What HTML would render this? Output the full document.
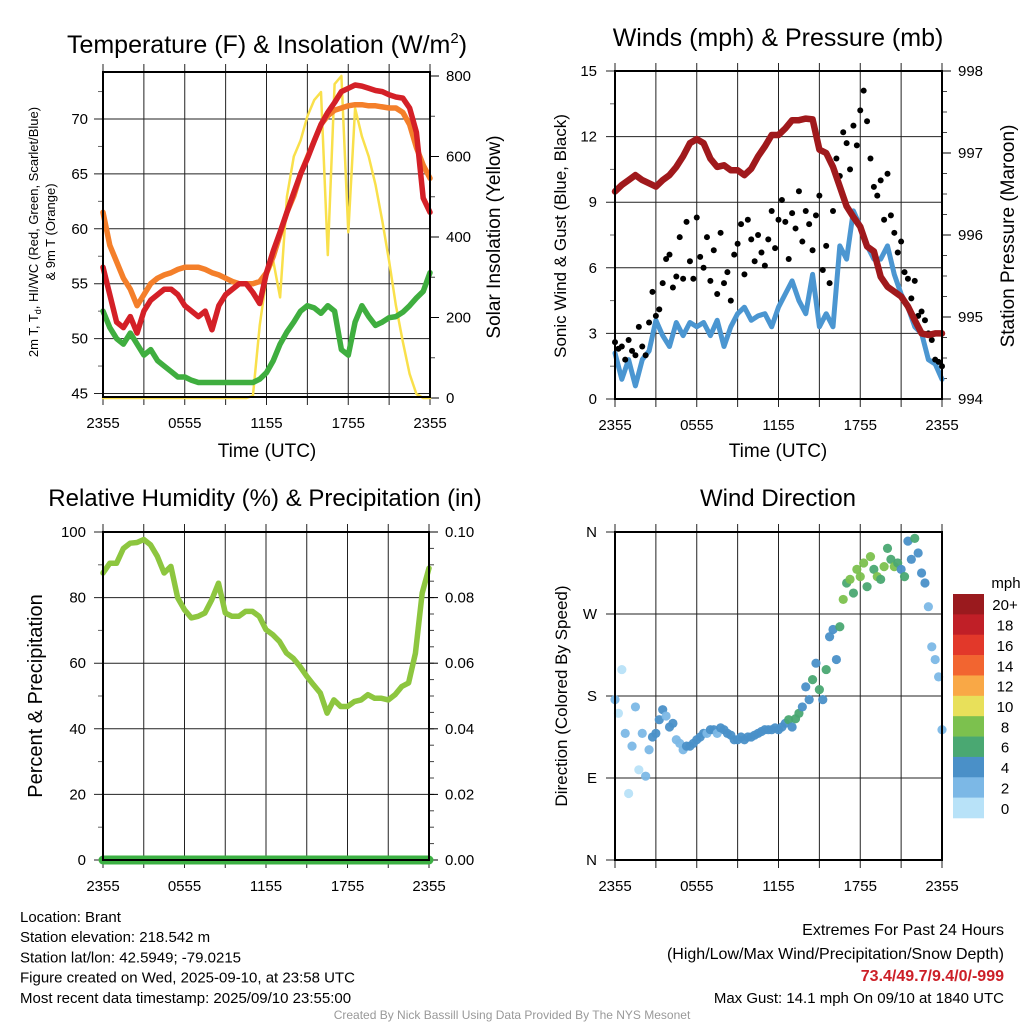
<!DOCTYPE html>
<html><head><meta charset="utf-8"><style>
html,body{margin:0;padding:0;background:#fff;}
svg{display:block;font-family:"Liberation Sans",Arial,sans-serif;}
</style></head><body>
<svg id="chart" width="1024" height="1024" viewBox="0 0 1024 1024" xmlns="http://www.w3.org/2000/svg"></svg>
<script>
// ---------- DATA (30-minute steps, 0h = 2355 UTC) ----------
const timeLabels = ["2355","0555","1155","1755","2355"];
const tempTicks = [45,50,55,60,65,70];
const solarTicks = [0,200,400,600,800];
const windTicks = [0,3,6,9,12,15];
const presTicks = [994,995,996,997,998];
const rhTicks = [0,20,40,60,80,100];
const precipTicks = ["0.00","0.02","0.04","0.06","0.08","0.10"];
const dirTicks = ["N","E","S","W","N"];
const speedBins = ["0","2","4","6","8","10","12","14","16","18","20+"];

const temp2m = [56.5,54,51.5,51,52,50.5,52.5,53.5,54,54.5,54.5,54,53,52.5,52,52.5,50.8,53,54,54.5,55,55,54.2,53.2,56,58,59.7,61.5,63.3,65,66.4,68,69.5,70.6,71.5,72.5,72.8,73.1,73,72.8,72.6,72.5,72.2,72,71.9,71,68.8,62.8,61.5,57.3].slice(0,49);
const temp9m = [61.5,58.5,57,55.5,54.5,53,54,55,55.5,55.8,56,56.3,56.5,56.5,56.5,56.3,56,55.8,55.5,55.2,55,55,55,55.2,56,57.5,59.5,61.5,63,65,66.5,68,69.5,70.3,70.8,71,71.2,71.3,71.3,71.2,71.2,71.1,71,71,70.6,69.5,67.4,65.8,64.6,62.2].slice(0,49);
const dewpt = [52.5,51,50,49.5,50.5,49.5,48.5,49,48,47.5,47,46.5,46.5,46.2,46,46,46,46,46,46,46,46,46,46.3,46.9,48,49.5,50.6,51.5,52.5,53,52.8,52.3,53,52.5,49,48.5,51.5,53,52,51.2,51.5,51.9,52,52.4,53,53.7,54.3,56,54].slice(0,49);
const solar = [0,0,0,0,0,0,0,0,0,0,0,0,0,0,0,0,0,0,0,0,0,0,5,180,300,340,250,500,600,640,700,740,760,355,780,800,412,720,650,600,530,440,340,230,140,60,10,0,0];

const pressure = [996.53,996.61,996.67,996.73,996.67,996.63,996.59,996.67,996.73,996.83,996.96,997.12,997.17,997.12,996.93,996.83,996.85,996.79,996.79,996.73,996.81,996.96,997.08,997.22,997.22,997.30,997.40,997.40,997.42,997.41,997.04,997.00,996.83,996.59,996.35,996.22,996.10,995.86,995.80,995.49,995.37,995.31,995.25,995.13,994.96,994.80,994.78,994.80,994.80];
const sonicWind = [2.1,0.9,1.8,0.6,1.8,2.2,3.6,2.9,2.4,3.5,2.9,3.5,3.3,3.5,2.9,3.6,2.4,3.3,3.9,4.2,3.6,3.8,3.9,3.3,4.2,4.8,5.4,4.5,3.9,5.7,3.3,3.9,3.3,7.0,6.4,8.6,7.9,7.0,6.4,6.4,7.0,5.7,4.8,4.2,3.3,3.0,1.8,1.6,0.9];
// gusts, 15-minute steps
const gusts = [2.6,2.3,2.4,1.8,2.7,2.2,2.0,3.3,2.4,
 2.0,3.5,4.9,3.8,4.1,5.3,6.4,6.6,
 5.1,5.6,7.4,5.5,8.1,6.3,5.5,8.3,
 6.5,6.0,7.4,5.4,6.8,4.8,7.6,5.3,
 5.8,4.5,6.6,7.1,8.0,5.7,8.2,7.3,
 6.3,7.5,6.7,6.1,7.3,8.6,6.9,8.2,
 9.1,8.1,6.4,8.5,7.8,9.5,7.2,8.6,
 8.0,6.8,8.4,9.3,5.9,7.0,5.3,8.6,
 11.0,10.2,12.2,11.7,10.5,12.5,11.6,13.2,
 14.1,12.7,11.0,9.7,9.3,10.0,8.2,10.3,
 8.4,7.6,6.7,7.2,5.8,5.5,4.6,5.4,
 3.8,4.0,3.6,3.0,2.7,1.8,1.7,1.5];

const humidity = [87.5,90.5,90.5,95,96.6,96.8,97.7,96.1,92.6,87.5,89.5,79.9,76.3,73.8,74.3,75.3,79.3,84.4,75.3,74.3,74.3,75.8,75.8,74.3,70.2,68.7,66.6,63.1,61.5,59,56,53.4,50.9,44.8,48.8,46.8,46.8,48.3,48.8,50.4,49.3,49.3,48.8,50.4,52.9,54,63,81.4,89];
const precip = [0,0,0,0,0,0,0,0,0,0,0,0,0,0,0,0,0,0,0,0,0,0,0,0,0,0,0,0,0,0,0,0,0,0,0,0,0,0,0,0,0,0,0,0,0,0,0,0,0];

// wind direction (deg) & speed (mph), 15-minute steps
const windDir = [176,161,209,139,73,125,168,99,139,
 92,121,135,139,154,165,158,146,
 150,132,128,121,125,125,128,132,
 135,139,139,143,143,139,145,143,
 139,137,132,132,135,132,135,135,
 137,139,141,143,143,143,145,143,
 146,150,154,146,155,161,168,190,
 176,198,216,187,176,209,245,253,
 220,256,286,304,308,293,319,311,
 326,300,333,319,311,308,322,342,
 330,322,326,319,311,350,330,353,
 337,315,304,278,234,220,201,143];
const windSpd = [1.0,0.5,0.8,1.6,0.4,1.2,2.4,0.9,2.2,
 1.5,2.6,3.4,3.9,3.6,3.0,2.6,3.1,
 3.2,2.8,2.4,2.6,3.1,3.6,3.3,3.0,
 3.8,3.2,2.6,3.5,3.0,2.8,3.2,3.4,
 3.6,3.9,4.2,3.7,4.4,3.9,3.6,3.8,
 3.5,4.1,3.8,4.2,3.6,4.4,4.6,4.3,
 4.4,4.8,5.2,4.2,6.4,5.3,4.6,4.9,
 4.4,6.1,3.8,5.4,4.6,5.2,4.0,4.7,
 4.8,6.8,7.2,6.6,8.6,6.9,7.4,7.0,
 8.8,6.6,7.1,6.3,8.4,6.5,7.1,6.8,
 6.6,7.3,5.9,4.4,6.2,4.6,4.2,5.0,
 4.8,3.6,3.2,2.6,1.8,2.4,1.4,1.0];

// ---------- RENDERING ----------
const NS="http://www.w3.org/2000/svg";
const svg=document.getElementById('chart');
const binColors=["#b8e2f8","#7cb8e6","#4a90c8","#4aa872","#7cc14e","#e8e05a","#f9a846","#f26530","#e2382a","#c01f27","#9a1a1e"];
function mk(tag,attrs,parent){const e=document.createElementNS(NS,tag);for(const k in attrs)e.setAttribute(k,attrs[k]);(parent||svg).appendChild(e);return e;}
function lin(d0,d1,r0,r1){return v=>r0+(v-d0)*(r1-r0)/(d1-d0);}
function txt(s,x,y,size,anchor,parent,extra){const t=mk('text',Object.assign({x:x,y:y,'font-size':size,'text-anchor':anchor||'start',fill:'#000'},extra||{}),parent);t.textContent=s;return t;}

function panel(name,x0,x1,yt,yb){
  const g=mk('g',{});
  
  
  const xs=lin(0,24,x0,x1);
  for(let h=0;h<=24;h+=3){
    const l=mk('line',{x1:xs(h),x2:xs(h),y1:yt-8,y2:yb+8,stroke:'#222','stroke-width':1},g);
    
    
  }
  timeLabels.forEach((s,i)=>{const t=txt(s,xs(i*6),yb+31,15,'middle',g);
    
    });
  return {g,xs};
}
function hGrid(g,x0,x1,ys,vals,labelX,anchor,labels){
  vals.forEach((v,i)=>{
    const l=mk('line',{x1:x0-9,x2:x1,y1:ys(v),y2:ys(v),stroke:'#222','stroke-width':1},g);
    
    
    const t=txt(labels?labels[i]:String(v),labelX,ys(v)+5,15,anchor,g);
    
    
  });
}
function rTicks(g,x1,ys,vals,labels,minorStep,lo,hi){
  for(let v=lo;v<=hi+1e-9;v+=minorStep){mk('line',{x1:x1,x2:x1+5,y1:ys(v),y2:ys(v),stroke:'#444','stroke-width':1},g);}
  vals.forEach((v,i)=>{
    mk('line',{x1:x1,x2:x1+9,y1:ys(v),y2:ys(v),stroke:'#000','stroke-width':1},g);
    const t=txt(labels?labels[i]:String(v),x1+16,ys(v)+5,15,'start',g);
    
    
  });
}
function frame(g,x0,x1,yt,yb){mk('rect',{x:x0,y:yt,width:x1-x0,height:yb-yt,fill:'none',stroke:'#000','stroke-width':2},g);}
function path(g,arr,xs,ys,step,color,w,name){
  const d=arr.map((v,i)=>(i?'L':'M')+xs(i*step).toFixed(1)+','+ys(v).toFixed(1)).join('');
  const p=mk('path',{d:d,fill:'none',stroke:color,'stroke-width':w,'stroke-linejoin':'round','stroke-linecap':'round'},g);
  
  
  return p;
}
function rotLabel(s,x,y,size,g,name){const t=txt(s,x,y,size,'middle',g,{transform:`rotate(-90 ${x} ${y})`});
  
  return t;}

// ---- Panel 1: Temperature ----
{const x0=103,x1=430,yt=72,yb=397;
 const {g,xs}=panel('temperature-panel',x0,x1,yt,yb);
 const yT=lin(45,70,393.5,119), yS=lin(0,800,398,76);
 for(let v=47.5;v<=72.5;v+=5){mk('line',{x1:x0-5,x2:x0,y1:yT(v),y2:yT(v),stroke:'#666'},g);}
 hGrid(g,x0,x1,yT,tempTicks,88,'end');
 rTicks(g,x1,yS,solarTicks,null,100,0,800);
 path(g,solar,xs,yS,0.5,'#f9e04b',2.5,'solar-insolation-line');
 path(g,dewpt,xs,yT,0.5,'#3fae3f',5.5,'dewpoint-line');
 path(g,temp9m,xs,yT,0.5,'#f47f2a',5.5,'temp-9m-line');
 path(g,temp2m,xs,yT,0.5,'#d42027',5.5,'temp-2m-line');
 frame(g,x0,x1,yt,yb);
 const t=txt('',267,53,25,'middle',g);t.innerHTML='Temperature (F) &amp; Insolation (W/m<tspan dy="-10" font-size="15">2</tspan><tspan dy="10">)</tspan>';
 
 const xl=txt('Time (UTC)',267,457,19,'middle',g);
 const yl=txt('',38,232,13,'middle',g,{transform:'rotate(-90 38 232)'});yl.innerHTML='2m T, T<tspan dy="3" font-size="9">d</tspan><tspan dy="-3">, HI/WC (Red, Green, Scarlet/Blue)</tspan>';
 
 rotLabel('& 9m T (Orange)',55,232,13,g,'y-axis-title-line2');
 rotLabel('Solar Insolation (Yellow)',500,237,19,g,'right-axis-title');
}
// ---- Panel 2: Winds ----
{const x0=615,x1=942,yt=71,yb=399;
 const {g,xs}=panel('winds-panel',x0,x1,yt,yb);
 const yW=lin(0,15,399,71), yP=lin(994,998,399,71);
 for(let v=1.5;v<=13.5;v+=3){mk('line',{x1:x0-5,x2:x0,y1:yW(v),y2:yW(v),stroke:'#666'},g);}
 hGrid(g,x0,x1,yW,windTicks,597,'end');
 rTicks(g,x1,yP,presTicks,null,0.25,994,998);
 path(g,sonicWind,xs,yW,0.5,'#4b96d1',5,'sonic-wind-line');
 gusts.forEach((v,i)=>{const c=mk('circle',{cx:xs(i*0.25),cy:yW(v),r:3,fill:'#000'},g);
   });
 path(g,pressure,xs,yP,0.5,'#a0191c',6.5,'pressure-line');
 frame(g,x0,x1,yt,yb);
 const t=txt('Winds (mph) & Pressure (mb)',778,46,25,'middle',g);
 const xl=txt('Time (UTC)',778,457,19,'middle',g);
 rotLabel('Sonic Wind & Gust (Blue, Black)',566,236,17,g,'y-axis-title');
 rotLabel('Station Pressure (Maroon)',1014,236,19,g,'right-axis-title');
}
// ---- Panel 3: RH ----
{const x0=103,x1=429,yt=532,yb=860;
 const {g,xs}=panel('humidity-panel',x0,x1,yt,yb);
 const yR=lin(0,100,860,532), yPr=lin(0,0.1,860,532);
 for(let v=10;v<=90;v+=20){mk('line',{x1:x0-5,x2:x0,y1:yR(v),y2:yR(v),stroke:'#666'},g);}
 hGrid(g,x0,x1,yR,rhTicks,86,'end');
 rTicks(g,x1,yPr,[0,0.02,0.04,0.06,0.08,0.1],precipTicks,0.005,0,0.1);
 path(g,humidity,xs,yR,0.5,'#8dc63f',5.5,'humidity-line');
 path(g,precip,xs,yPr,0.5,'#3cb043',9,'precipitation-line');
 frame(g,x0,x1,yt,yb);
 const t=txt('Relative Humidity (%) & Precipitation (in)',265,506,24,'middle',g);
 rotLabel('Percent & Precipitation',42,696,20,g,'y-axis-title');
}
// ---- Panel 4: Wind direction ----
{const x0=615,x1=942,yt=532,yb=860;
 const {g,xs}=panel('wind-direction-panel',x0,x1,yt,yb);
 const yD=lin(0,360,860,532);
 hGrid(g,x0,x1,yD,[0,90,180,270,360],597,'end',dirTicks);
 windDir.forEach((v,i)=>{const b=Math.min(10,Math.round(windSpd[i]/2));
   const c=mk('circle',{cx:xs(i*0.25),cy:yD(v),r:4.6,fill:binColors[b],'fill-opacity':0.95},g);
   });
 frame(g,x0,x1,yt,yb);
 const t=txt('Wind Direction',778,506,24,'middle',g);
 rotLabel('Direction (Colored By Speed)',567,696,17,g,'y-axis-title');
 const cb=mk('g',{});
 
 
 const top=594,h=(818-594)/11;
 speedBins.forEach((s,i)=>{const j=10-i;
   const r=mk('rect',{x:953,y:top+i*h,width:31,height:h+0.3,fill:binColors[j]},cb);
   
   const l=txt(speedBins[j],1005,top+i*h+h/2+6,15,'middle',cb);
   });
 const m=txt('mph',1006,588,15,'middle',cb);
}
// ---- Footer text ----
{const g=mk('g',{});
 
 
 ["Location: Brant","Station elevation: 218.542 m","Station lat/lon: 42.5949; -79.0215","Figure created on Wed, 2025-09-10, at 23:58 UTC","Most recent data timestamp: 2025/09/10 23:55:00"].forEach((s,i)=>{
   const t=txt(s,20,922+i*20.2,15,'start',g);});
 const e=mk('g',{});
 
 
 const a=txt('Extremes For Past 24 Hours',1004,935,16,'end',e);
 const b=txt('(High/Low/Max Wind/Precipitation/Snow Depth)',1004,959,16,'end',e);
 const c=txt('73.4/49.7/9.4/0/-999',1004,981,16,'end',e,{fill:'#cc1f27','font-weight':'bold'});
 const d=txt('Max Gust: 14.1 mph On 09/10 at 1840 UTC',1004,1003,15,'end',e);
 const f=txt('Created By Nick Bassill Using Data Provided By The NYS Mesonet',512,1019,12,'middle',svg,{fill:'#999'});
 
}
</script>
</body></html>
